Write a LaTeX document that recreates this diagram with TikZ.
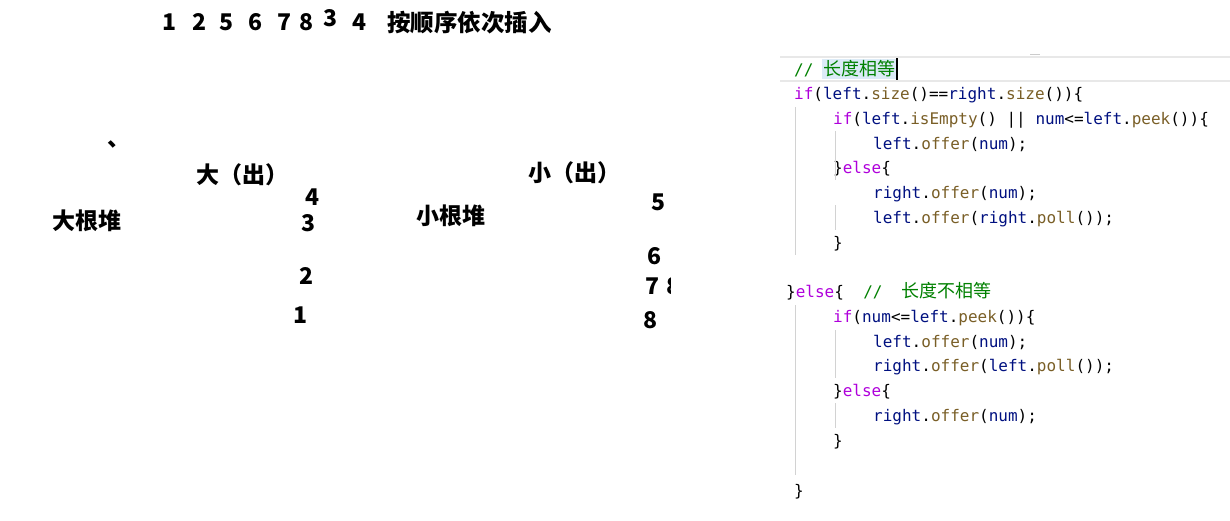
\documentclass[tikz,border=0pt]{standalone}
\usepackage{fontspec}
\usepackage{xcolor}
\setmonofont{DejaVu Sans Mono}
\newfontfamily\cjk{Noto Sans CJK SC}
\definecolor{kwpurple}{HTML}{AF00DB}
\definecolor{fnbrown}{HTML}{795E26}
\definecolor{varnavy}{HTML}{001080}
\definecolor{cmgreen}{HTML}{008000}
\definecolor{selblue}{HTML}{DCEBF7}
\newcommand{\ckw}[1]{\textcolor{kwpurple}{#1}}
\newcommand{\cfn}[1]{\textcolor{fnbrown}{#1}}
\newcommand{\cvar}[1]{\textcolor{varnavy}{#1}}
\newcommand{\ccm}[1]{\textcolor{cmgreen}{#1}}

\begin{document}
\begin{tikzpicture}[x=1pt,y=-1pt,
  heaptext/.style={inner sep=0pt, font=\cjk\bfseries\fontsize{23}{23}\selectfont},
  codeline/.style={anchor=base west, inner sep=0pt, font=\ttfamily\fontsize{16}{16}\selectfont},
  guide/.style={gray!35, line width=1pt}]
\useasboundingbox (0,0) rectangle (1230,520);
% order of insertion
\foreach \d/\x/\y in {1/170/22,2/199/22,5/226/22,6/255/22,7/284/22,8/306/22,3/330/18,4/359/22}
  \node[heaptext] (top\d) at (\x,\y) {\d};
\node[heaptext, anchor=west, font=\cjk\bfseries\fontsize{23.5}{24}\selectfont] (order) at (387,23) {按顺序依次插入};
\node[heaptext] (dot) at (119,144) {、};
% big root heap
\node[heaptext] (bigname) at (87,221) {大根堆};
\node[heaptext] (bigout) at (242,175) {大（出）};
\foreach \d/\x/\y in {4/312/197,3/308/223,2/306/276,1/300/315}
  \node[heaptext] (big\d) at (\x,\y) {\d};
% small root heap
\node[heaptext] (smallname) at (451,216) {小根堆};
\node[heaptext] (smallout) at (574,173) {小（出）};
\foreach \d/\x/\y in {5/658/202,6/654/256,7/652/286,8/650/320}
  \node[heaptext] (small\d) at (\x,\y) {\d};
\begin{scope}
  \clip (664,272) rectangle (670,300);
  \node[heaptext] (cut8) at (673,286) {8};
\end{scope}
% editor
\draw[gray!18, line width=2pt] (780,57) -- (1230,57);
\draw[gray!18, line width=2pt] (780,81) -- (1230,81);
\draw[gray!40, line width=1pt] (1030,54) -- (1040,54);
\fill[selblue] (822,59) rectangle (896,79);
\draw[black, line width=1.5pt] (897,58) -- (897,80);
\node[codeline] (c0) at (794,75) {\ccm{// {\cjk\fontsize{18}{18}\selectfont 长度相等}}};
\node[codeline] (c1) at (794,99) {\ckw{if}(\cvar{left}.\cfn{size}()==\cvar{right}.\cfn{size}())\{};
\node[codeline] (c2) at (833,124) {\ckw{if}(\cvar{left}.\cfn{isEmpty}() || \cvar{num}<=\cvar{left}.\cfn{peek}())\{};
\node[codeline] (c3) at (873,149) {\cvar{left}.\cfn{offer}(\cvar{num});};
\node[codeline] (c4) at (833,173) {\}\ckw{else}\{};
\node[codeline] (c5) at (873,198) {\cvar{right}.\cfn{offer}(\cvar{num});};
\node[codeline] (c6) at (873,223) {\cvar{left}.\cfn{offer}(\cvar{right}.\cfn{poll}());};
\node[codeline] (c7) at (833,248) {\}};
\node[codeline] (c8) at (786,297) {\}\ckw{else}\{\ \ \ccm{//\ \ {\cjk\fontsize{18}{18}\selectfont 长度不相等}}};
\node[codeline] (c9) at (833,322) {\ckw{if}(\cvar{num}<=\cvar{left}.\cfn{peek}())\{};
\node[codeline] (c10) at (873,347) {\cvar{left}.\cfn{offer}(\cvar{num});};
\node[codeline] (c11) at (873,371) {\cvar{right}.\cfn{offer}(\cvar{left}.\cfn{poll}());};
\node[codeline] (c12) at (833,396) {\}\ckw{else}\{};
\node[codeline] (c13) at (873,421) {\cvar{right}.\cfn{offer}(\cvar{num});};
\node[codeline] (c14) at (833,446) {\}};
\node[codeline] (c15) at (794,496) {\}};
% indent guides
\draw[guide] (795,107) -- (795,255);
\draw[guide] (835,131) -- (835,180);
\draw[guide] (835,205) -- (835,230);
\draw[guide] (795,305) -- (795,475);
\draw[guide] (835,330) -- (835,378);
\draw[guide] (835,403) -- (835,428);
\end{tikzpicture}
\end{document}
